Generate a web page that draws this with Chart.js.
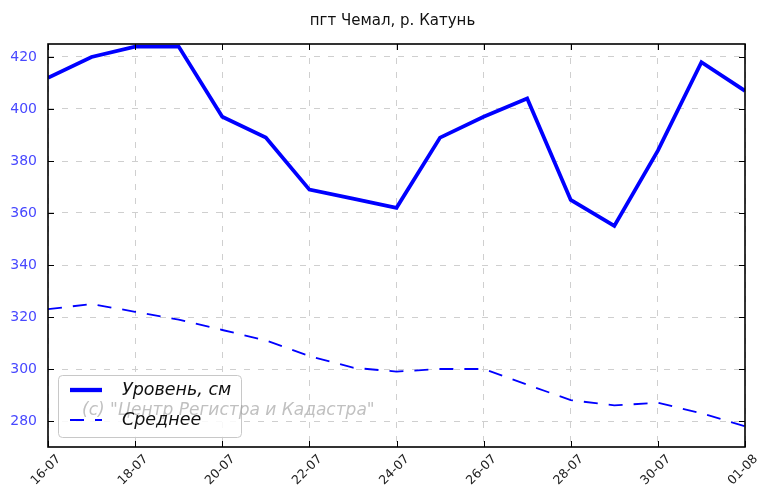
<!DOCTYPE html>
<html><head><meta charset="utf-8">
<script src="https://cdn.jsdelivr.net/npm/chart.js@4"></script>
<style>html,body{margin:0;padding:0;background:#fff}#wrap{width:760px;height:490px}</style>
</head><body><div id="wrap"><canvas id="c" width="760" height="490"></canvas></div>
<script>
const titleText = 'пгт Чемал, р. Катунь';
const watermark = '(c) "Центр Регистра и Кадастра"';
const dates = ['16-07','17-07','18-07','19-07','20-07','21-07','22-07','23-07','24-07','25-07','26-07','27-07','28-07','29-07','30-07','31-07','01-08'];
const level = [412,420,424,424,397,389,369,365.5,362,389,397,404,365,355,384,418,407];
const average = [323,325,322,319,315,311,305,300.5,299,300,300,294,288,286,287,283,278];
const yTicks = [280,300,320,340,360,380,400,420];
const seriesNames = ['Уровень, см','Среднее'];

const toPts = arr => arr.map((v,i)=>({x:i,y:v}));
const FONT = '"DejaVu Sans", sans-serif';

const frame = {
  id:'frame',
  afterDraw(chart){
    const {ctx, chartArea:a, scales:{x,y}} = chart;
    ctx.save();
    // inward ticks
    ctx.strokeStyle='#000'; ctx.lineWidth=1;
    x.ticks.forEach(t=>{const px=Math.round(x.getPixelForValue(t.value))+0.5;
      ctx.beginPath();ctx.moveTo(px,a.bottom);ctx.lineTo(px,a.bottom-6);ctx.moveTo(px,a.top);ctx.lineTo(px,a.top+6);ctx.stroke();});
    y.ticks.forEach(t=>{const py=Math.round(y.getPixelForValue(t.value))+0.5;
      ctx.beginPath();ctx.moveTo(a.left,py);ctx.lineTo(a.left+6,py);ctx.moveTo(a.right,py);ctx.lineTo(a.right-6,py);ctx.stroke();});
    // frame
    ctx.lineWidth=1.6;ctx.strokeStyle='#000';
    ctx.strokeRect(a.left,a.top,a.right-a.left,a.bottom-a.top);
    // x labels
    ctx.fillStyle='#222';ctx.font='12.5px '+FONT;ctx.textAlign='center';ctx.textBaseline='middle';
    x.ticks.forEach(t=>{const px=x.getPixelForValue(t.value);
      ctx.save();ctx.translate(px-2,a.bottom+23);ctx.rotate(-Math.PI/4);
      ctx.fillText(dates[t.value],0,0);ctx.restore();});
    // y labels
    ctx.fillStyle='#4848ff';ctx.font='14px '+FONT;ctx.textAlign='right';ctx.textBaseline='middle';
    y.ticks.forEach(t=>{ctx.fillText(String(t.value),a.left-11,y.getPixelForValue(t.value));});
    // title
    ctx.fillStyle='#111';ctx.font='15px '+FONT;
    ctx.textAlign='center';ctx.textBaseline='middle';
    ctx.fillText(titleText,(a.left+a.right)/2-4,21);
    // legend box
    const lx=a.left+10, ly=a.top+331, lw=183, lh=62;
    ctx.fillStyle='rgba(255,255,255,0.85)';ctx.strokeStyle='#c8c8c8';ctx.lineWidth=1;
    ctx.beginPath();ctx.roundRect(lx+0.5,ly+0.5,lw,lh,4);ctx.fill();ctx.stroke();
    // watermark
    ctx.fillStyle='rgba(150,150,150,0.6)';ctx.font='italic 17px '+FONT;
    ctx.textAlign='left';ctx.textBaseline='middle';
    ctx.fillText(watermark,a.left+34,a.top+367);
    // legend entries
    const ds=chart.data.datasets;
    const rows=[ly+15, ly+45];
    ds.forEach((d,i)=>{
      ctx.strokeStyle=d.borderColor;ctx.lineWidth=d.borderWidth+(i===0?0.5:0);
      ctx.setLineDash(d.borderDash||[]);
      ctx.beginPath();ctx.moveTo(lx+12,rows[i]);ctx.lineTo(lx+44,rows[i]);ctx.stroke();
      ctx.setLineDash([]);
      ctx.fillStyle='#111';ctx.font='italic 17.5px '+FONT;
      ctx.fillText(d.label,lx+64,rows[i]);
    });
    ctx.restore();
  }
};

new Chart(document.getElementById('c'),{
  type:'line',
  data:{datasets:[
    {label:seriesNames[0],data:toPts(level),borderColor:'#0000ff',borderWidth:3.8,pointRadius:0,tension:0,fill:false},
    {label:seriesNames[1],data:toPts(average),borderColor:'#0000ff',borderWidth:1.8,borderDash:[14,11],pointRadius:0,tension:0,fill:false}
  ]},
  options:{
    responsive:false,animation:false,
    layout:{padding:{top:44,right:15,left:0,bottom:0}},
    plugins:{legend:{display:false},tooltip:{enabled:false},title:{display:false}},
    scales:{
      x:{type:'linear',min:0,max:dates.length-1,
        afterBuildTicks(s){s.ticks=dates.map((d,i)=>({value:i})).filter(t=>t.value%2===0);},
        afterFit(s){s.height=43;},
        grid:{color:'#cfcfcf',lineWidth:1,drawTicks:false,tickLength:0},
        border:{display:false,dash:[6,8]},
        ticks:{display:false}
      },
      y:{type:'linear',min:270,max:425,
        afterBuildTicks(s){s.ticks=yTicks.map(v=>({value:v}));},
        afterFit(s){s.width=48;},
        grid:{color:'#cfcfcf',lineWidth:1,drawTicks:false,tickLength:0},
        border:{display:false,dash:[6,8]},
        ticks:{display:false}
      }
    }
  },
  plugins:[frame]
});
</script></body></html>
